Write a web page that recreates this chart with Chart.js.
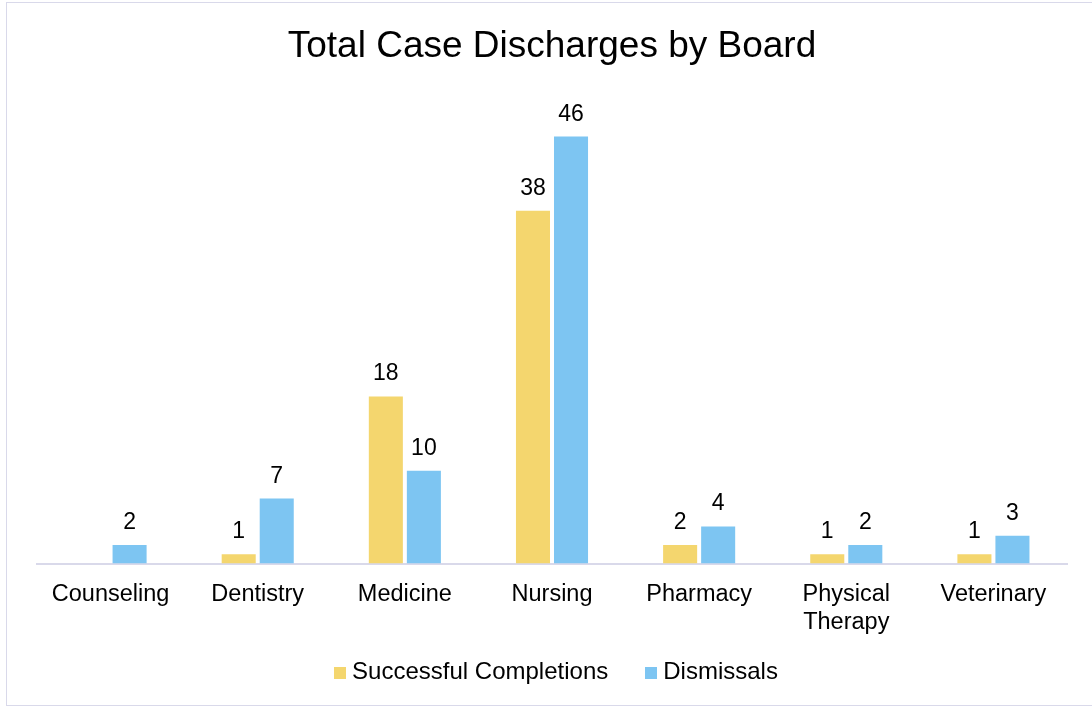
<!DOCTYPE html>
<html>
<head>
<meta charset="utf-8">
<script src="https://cdn.jsdelivr.net/npm/chart.js@4/dist/chart.umd.min.js"></script>
<style>
  html, body { margin: 0; padding: 0; background: #ffffff; }
  #wrap { position: relative; width: 1092px; height: 709px; overflow: hidden; }
  #frame { position: absolute; left: 6px; top: 2px; width: 1110px; height: 704px; border: 1.5px solid #d9d9ea; box-sizing: border-box; pointer-events: none; }
  canvas { position: absolute; left: 0; top: 0; }
</style>
</head>
<body>
<div id="wrap">
  <canvas id="c" width="1092" height="709"></canvas>
  <div id="frame"></div>
</div>
<script>
const categories = ['Counseling', 'Dentistry', 'Medicine', 'Nursing', 'Pharmacy', ['Physical', 'Therapy'], 'Veterinary'];
const successfulCompletions = [null, 1, 18, 38, 2, 1, 1];
const dismissals = [2, 7, 10, 46, 4, 2, 3];
const seriesNames = ['Successful Completions', 'Dismissals'];
const seriesColors = ['#f4d66e', '#7dc5f2'];
const chartTitle = 'Total Case Discharges by Board';

const FONT = "'Liberation Sans', Arial, Helvetica, sans-serif";

function swatch(color) {
  const c = document.createElement('canvas');
  c.width = 12; c.height = 12;
  const x = c.getContext('2d');
  x.fillStyle = color;
  x.fillRect(0, 0, 12, 12);
  return c;
}
const swatches = seriesColors.map(swatch);

const valueLabels = {
  id: 'valueLabels',
  afterDatasetsDraw(chart) {
    const ctx = chart.ctx;
    ctx.save();
    ctx.font = '23px ' + FONT;
    ctx.fillStyle = '#000000';
    ctx.textAlign = 'center';
    ctx.textBaseline = 'alphabetic';
    chart.data.datasets.forEach((ds, di) => {
      const meta = chart.getDatasetMeta(di);
      meta.data.forEach((bar, i) => {
        const v = ds.data[i];
        if (v === null || v === undefined) return;
        ctx.fillText(String(v), bar.x, bar.y - 16);
      });
    });
    ctx.restore();
  }
};

// nudge the legend box into place after layout
const legendNudge = {
  id: 'legendNudge',
  afterLayout(chart) {
    const lg = chart.legend;
    if (!lg) return;
    lg.top -= 35;
    lg.bottom = chart.height;
    lg.left += 6.5; lg.right += 6.5;
  }
};

new Chart(document.getElementById('c'), {
  type: 'bar',
  data: {
    labels: categories,
    datasets: [
      { label: seriesNames[0], data: successfulCompletions, backgroundColor: seriesColors[0] },
      { label: seriesNames[1], data: dismissals, backgroundColor: seriesColors[1] }
    ]
  },
  options: {
    responsive: false,
    animation: false,
    devicePixelRatio: 1,
    categoryPercentage: 0.517,
    barPercentage: 0.895,
    layout: { padding: { left: 37, right: 25, top: 25, bottom: 0 } },
    plugins: {
      tooltip: { enabled: false },
      title: {
        display: true,
        text: chartTitle,
        color: '#000000',
        font: { family: FONT, size: 37, weight: 'normal' },
        padding: { top: 0, bottom: 30 }
      },
      legend: {
        position: 'bottom',
        maxHeight: 55.5,
        labels: {
          color: '#000000',
          font: { family: FONT, size: 24 },
          usePointStyle: true,
          pointStyleWidth: 1,
          padding: 42,
          generateLabels(chart) {
            return chart.data.datasets.map((ds, i) => ({
              text: ds.label,
              pointStyle: swatches[i],
              fillStyle: seriesColors[i],
              strokeStyle: seriesColors[i],
              lineWidth: 0,
              hidden: false,
              datasetIndex: i,
              fontColor: '#000000'
            }));
          }
        }
      }
    },
    scales: {
      x: {
        grid: { display: false, drawTicks: false },
        border: { display: true, color: '#d9d9ea', width: 2 },
        ticks: { color: '#000000', font: { family: FONT, size: 23.5, lineHeight: 1.17 }, padding: 17.5, maxRotation: 0, autoSkip: false }
      },
      y: {
        display: false,
        min: 0,
        max: 50
      }
    }
  },
  plugins: [valueLabels, legendNudge]
});
</script>
</body>
</html>
